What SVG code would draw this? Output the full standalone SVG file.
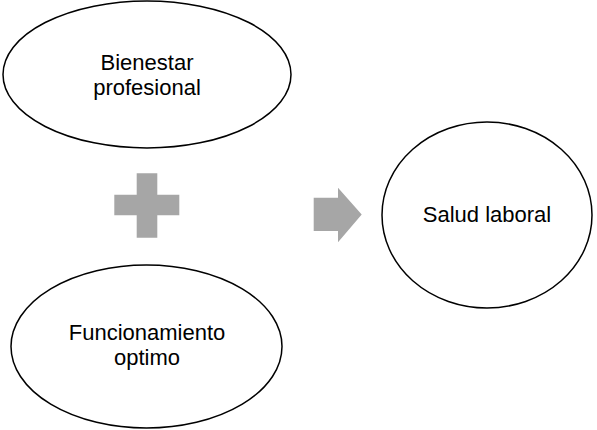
<svg xmlns="http://www.w3.org/2000/svg" width="597" height="430" viewBox="0 0 597 430">
  <style>
    .node { fill: #ffffff; stroke: #000000; stroke-width: 1.5; }
    .lbl { font-family: "Liberation Sans", Arial, sans-serif; font-size: 22px; fill: #000000; text-anchor: middle; }
    .sym { fill: #a6a6a6; }
  </style>
  <rect width="597" height="430" fill="#ffffff"/>
  <g id="node-bienestar">
    <ellipse class="node" cx="147" cy="74.5" rx="144" ry="73.5"/>
    <text class="lbl" x="147" y="70">Bienestar</text>
    <text class="lbl" x="147" y="95">profesional</text>
  </g>
  <g id="node-funcionamiento">
    <ellipse class="node" cx="146.5" cy="346.5" rx="135.5" ry="81.5"/>
    <text class="lbl" x="147" y="339.5">Funcionamiento</text>
    <text class="lbl" x="147" y="365">optimo</text>
  </g>
  <g id="node-salud">
    <ellipse class="node" cx="487" cy="215" rx="105" ry="93"/>
    <text class="lbl" x="487" y="221.5">Salud laboral</text>
  </g>
  <g id="connectors">
    <path id="plus" class="sym" d="M136.7,173.3 H157.3 V194.7 H179.3 V215.3 H157.3 V237.7 H136.7 V215.3 H114.3 V194.7 H136.7 Z"/>
    <path id="arrow" class="sym" d="M313.7,197.7 H338 V187.7 L361.7,214.5 L338,242.3 V231 H313.7 Z"/>
  </g>
</svg>
